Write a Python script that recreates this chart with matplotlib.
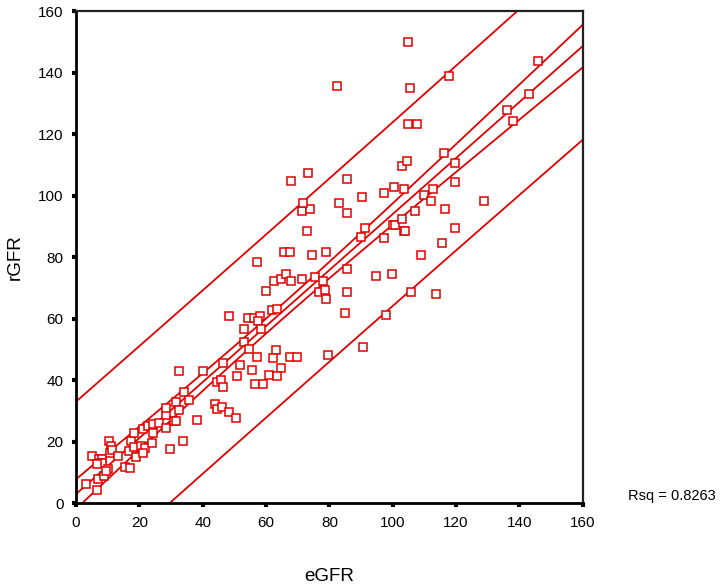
import numpy as np
import matplotlib
matplotlib.use("Agg")
import matplotlib.pyplot as plt

plt.rcParams['font.family'] = ['Liberation Sans', 'DejaVu Sans']

# Data (eGFR vs rGFR)
egfr = [3.2, 6.7, 6.8, 8.7, 5.1, 7.3, 8.2, 7.5, 8.3, 6.6, 10.3, 11.1, 10.6, 11.3,
        13.4, 10.2, 9.5, 15.6, 17.0, 16.8, 17.2, 18.3, 18.3, 18.9, 20.4, 21.2,
        21.9, 21.2, 24.0, 22.8, 24.4, 26.1, 24.3, 28.5, 28.5, 28.5, 29.6, 31.6,
        32.6, 31.0, 31.6, 33.7, 34.1, 35.7, 38.1, 32.6,
        40.2, 44.4, 45.7, 46.3, 43.8, 44.6, 46.0, 48.3, 50.5, 46.3, 51.9, 55.5,
        50.9, 56.5, 59.0, 48.3, 54.4, 56.2, 58.1, 57.6, 58.5, 52.9, 52.9, 54.6,
        57.2, 57.0, 60.1, 61.8, 63.6, 63.2, 62.1, 64.6, 61.0, 63.6, 67.5, 69.8,
        62.6, 64.6, 66.3, 67.8, 71.4, 75.3, 78.0, 76.8, 78.6, 78.9, 79.5, 65.6,
        67.4, 74.4, 78.9, 72.8, 71.3, 73.8, 71.7, 67.8, 73.3, 82.5, 83.0, 85.6,
        85.5, 85.5, 85.5, 85.0, 90.2, 90.1, 91.3, 90.6, 94.7, 99.8, 97.8, 97.3,
        97.2, 100.3, 103.4, 102.9, 104.4, 100.2, 100.8, 103.4, 103.9, 102.8,
        104.9, 105.5, 104.9, 107.5, 105.9, 107.0, 109.0, 110.0, 112.0, 112.6,
        113.6, 115.6, 116.1, 116.6, 117.7, 119.8, 119.8, 119.8, 128.8, 136.0,
        138.1, 143.0, 145.7]
rgfr = [6.1, 4.3, 8.0, 8.7, 15.2, 14.4, 14.2, 12.9, 13.1, 12.6, 20.2, 18.6, 16.4, 17.2,
        15.4, 11.0, 10.6, 11.6, 11.3, 17.0, 20.2, 22.9, 18.4, 15.1, 18.6, 24.0,
        18.0, 16.2, 19.7, 25.0, 25.6, 25.9, 22.9, 24.4, 28.6, 30.8, 17.6, 32.9,
        30.2, 26.7, 26.7, 20.3, 36.0, 33.4, 27.1, 42.8,
        42.8, 39.5, 40.0, 37.6, 32.3, 30.7, 31.2, 29.7, 27.6, 45.5, 45.0, 43.4,
        41.2, 38.6, 38.6, 60.8, 60.3, 60.3, 60.8, 59.1, 56.5, 56.5, 52.4, 50.2,
        47.6, 78.5, 69.1, 62.8, 63.2, 49.8, 47.1, 43.9, 41.8, 41.3, 47.6, 47.6,
        72.3, 72.8, 74.4, 72.3, 72.8, 73.4, 72.3, 68.6, 69.3, 66.4, 48.1, 81.8,
        81.8, 80.7, 81.7, 88.6, 94.9, 95.5, 97.5, 104.8, 107.5, 135.8, 97.6, 94.4,
        105.4, 76.0, 68.6, 61.8, 99.6, 86.4, 89.4, 50.7, 73.9, 74.5, 61.2, 100.7,
        86.1, 102.8, 102.2, 109.7, 111.1, 90.3, 90.3, 88.4, 88.6, 92.4,
        150.0, 134.9, 123.3, 123.3, 68.6, 95.0, 80.7, 100.2, 98.1, 102.2,
        68.1, 84.5, 113.7, 95.5, 139.0, 110.7, 104.4, 89.5, 98.1, 127.9,
        124.3, 133.2, 143.7]

x_ticks = [0, 20, 40, 60, 80, 100, 120, 140, 160]
y_ticks = [0, 20, 40, 60, 80, 100, 120, 140, 160]
rsq_label = "Rsq = 0.8263"

x = np.array(egfr)
y = np.array(rgfr)
n = len(x)
b1, b0 = np.polyfit(x, y, 1)
resid = y - (b0 + b1 * x)
s = np.sqrt(np.sum(resid ** 2) / (n - 2))
xbar = x.mean()
sxx = np.sum((x - xbar) ** 2)
t = 1.9766

xl = np.linspace(0, 160, 200)
fit = b0 + b1 * xl
se_mean = s * np.sqrt(1 / n + (xl - xbar) ** 2 / sxx)
se_pred = s * np.sqrt(1 + 1 / n + (xl - xbar) ** 2 / sxx)

red = "#e00000"

fig = plt.figure(figsize=(7.24, 5.85), dpi=100)
ax = fig.add_axes([0.105, 0.140, 0.700, 0.841])

for curve in (fit, fit - t * se_mean, fit + t * se_mean,
              fit - t * se_pred, fit + t * se_pred):
    ax.plot(xl, curve, color=red, lw=1.3, zorder=2)

ax.plot(x, y, linestyle="none", marker="s", markersize=6.0,
        markerfacecolor="white", markeredgecolor=red, markeredgewidth=1.1,
        zorder=3)

ax.set_xlim(0, 160)
ax.set_ylim(0, 160)
ax.set_xticks(x_ticks)
ax.set_yticks(y_ticks)
ax.set_xticklabels([str(v) for v in x_ticks], fontsize=11)
ax.set_yticklabels([str(v) for v in y_ticks], fontsize=11)
ax.tick_params(axis="both", direction="out", length=3, width=3, color="black", pad=6)

for side in ("left", "bottom"):
    ax.spines[side].set_linewidth(2.0)
    ax.spines[side].set_color("black")
for side in ("top", "right"):
    ax.spines[side].set_linewidth(1.6)
    ax.spines[side].set_color("#222222")

ax.set_xlabel("eGFR", fontsize=13.5, labelpad=28)
ax.set_ylabel("rGFR", fontsize=13.5, labelpad=10)

fig.text(628 / 724, 1 - 496 / 585, rsq_label, fontsize=10.5, ha="left", va="center")

fig.savefig("out.png", dpi=100)
